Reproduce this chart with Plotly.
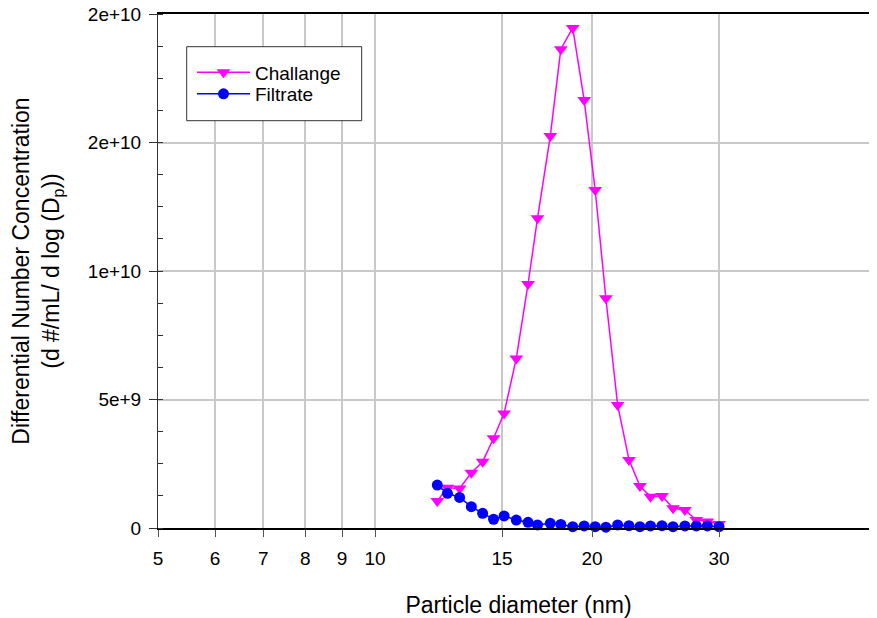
import math
import plotly.graph_objects as go

# Particle diameter midpoints (nm)
diameter_nm = [12.2, 12.6, 13.1, 13.6, 14.1, 14.6, 15.1, 15.7, 16.3, 16.8, 17.5, 18.1, 18.8,
               19.5, 20.2, 20.9, 21.7, 22.5, 23.3, 24.1, 25.0, 25.9, 26.9, 27.9, 28.9, 30.0]

# Differential number concentration (d#/mL/dlogDp)
challange = [1.05e9, 1.57e9, 1.54e9, 2.15e9, 2.58e9, 3.49e9, 4.46e9, 6.60e9, 9.49e9, 1.205e10,
             1.525e10, 1.863e10, 1.946e10, 1.665e10, 1.315e10, 8.94e9, 4.79e9, 2.65e9, 1.63e9,
             1.22e9, 1.25e9, 7.7e8, 7.0e8, 3.1e8, 2.5e8, 1.6e8]
filtrate = [1.67e9, 1.35e9, 1.19e9, 8.3e8, 5.7e8, 3.4e8, 4.7e8, 3.1e8, 2.2e8, 1.2e8, 1.8e8,
            1.4e8, 5e7, 8e7, 5e7, 3e7, 1.2e8, 9e7, 5e7, 8e7, 9e7, 5e7, 8e7, 8e7, 8e7, 5e7]

x_tickvals = [5, 6, 7, 8, 9, 10, 15, 20, 30]
x_ticktext = ["5", "6", "7", "8", "9", "10", "15", "20", "30"]
y_tickvals = [0, 5e9, 1e10, 1.5e10, 2e10]
y_ticktext = ["0", "5e+9", "1e+10", "2e+10", "2e+10"]

FONT = "Liberation Sans, Arial, sans-serif"
W, H = 877, 618
OFF = 8  # page body margin offset
# target plot area on screen: x 158..879, y 14..528
L = 158 - OFF
T = 14 - OFF
R = W - (879 - OFF)
B = H - (528 - OFF)
pw, ph = W - L - R, H - T - B

def px_x(px):
    return (px - OFF - L) / pw

def px_y(py):
    return (H - B - (py - OFF)) / ph

fig = go.Figure()
fig.add_trace(go.Scatter(
    x=diameter_nm, y=challange, name="Challange", mode="lines+markers",
    line=dict(color="#FF00FF", width=1.5),
    marker=dict(symbol="triangle-down", size=12, color="#FF00FF"),
    cliponaxis=False, legend="legend",
))
fig.add_trace(go.Scatter(
    x=diameter_nm, y=filtrate, name="Filtrate", mode="lines+markers",
    line=dict(color="#0000FF", width=1.5),
    marker=dict(symbol="circle", size=11, color="#0000FF"),
    cliponaxis=False, legend="legend2",
))

# legend frame
fig.add_shape(type="rect", xref="paper", yref="paper",
              x0=px_x(186.7), x1=px_x(361.7), y0=px_y(120.7), y1=px_y(46.7),
              line=dict(color="#333333", width=1), fillcolor="white", layer="above")

leg_common = dict(xanchor="left", yanchor="middle", bgcolor="rgba(0,0,0,0)", borderwidth=0,
                  itemwidth=53, font=dict(family=FONT, size=19, color="black"))

fig.update_layout(
    width=W, height=H,
    margin=dict(l=L, r=R, t=T, b=B),
    paper_bgcolor="white", plot_bgcolor="white",
    font=dict(family=FONT, size=19, color="black"),
    showlegend=True,
    legend=dict(x=px_x(192), y=px_y(72.5), **leg_common),
    legend2=dict(x=px_x(192), y=px_y(94), **leg_common),
    xaxis=dict(
        type="log", range=[math.log10(5), math.log10(50)],
        tickmode="array", tickvals=x_tickvals, ticktext=x_ticktext,
        showgrid=True, gridcolor="#c8c8c8", gridwidth=1.5,
        showline=True, linecolor="black", linewidth=1.5, mirror=True,
        ticks="outside", ticklen=7, tickcolor="#555555", tickwidth=1,
        ticklabelstandoff=5, ticklabeloverflow="allow",
        tickfont=dict(family=FONT, size=19),
        title=dict(text="Particle diameter (nm)", font=dict(family=FONT, size=23), standoff=29),
        zeroline=False, automargin=False,
    ),
    yaxis=dict(
        range=[0, 2e10],
        tickmode="array", tickvals=y_tickvals, ticktext=y_ticktext,
        showgrid=True, gridcolor="#c8c8c8", gridwidth=1.5,
        showline=True, linecolor="#333333", linewidth=1, mirror=False,
        ticks="outside", ticklen=8, tickcolor="#333333", tickwidth=1,
        ticklabelstandoff=4, ticklabeloverflow="allow",
        minor=dict(dtick=1.25e9, tick0=0, ticks="inside", ticklen=5, tickcolor="#333333", showgrid=False),
        tickfont=dict(family=FONT, size=19),
        title=dict(text="Differential Number Concentration<br>(d #/mL/ d log (D<sub>p</sub>))",
                   font=dict(family=FONT, size=23), standoff=22),
        zeroline=False, automargin=False,
    ),
)

fig.write_html("out.html")
